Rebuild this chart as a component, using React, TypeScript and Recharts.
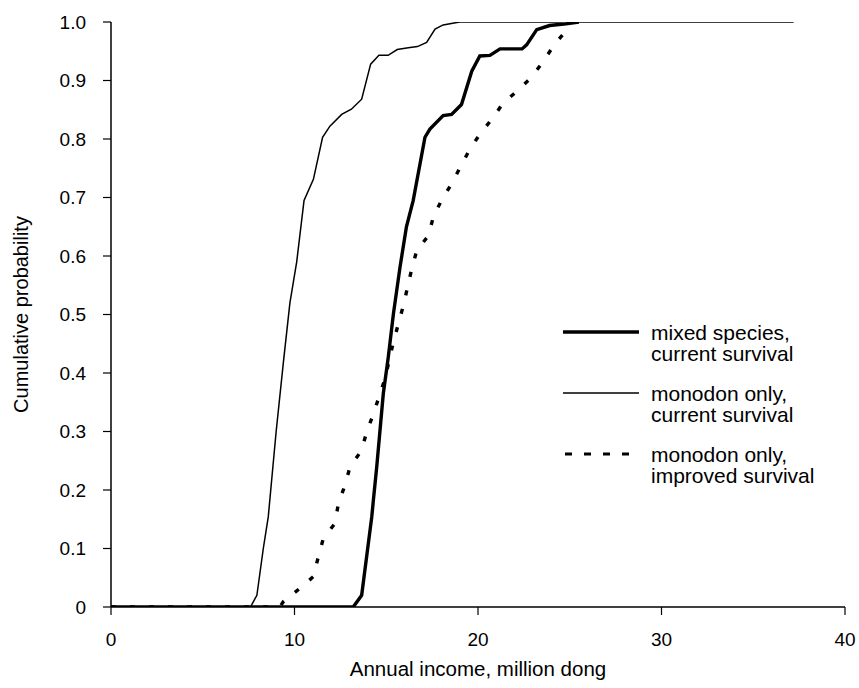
import React from 'react';
import { LineChart, Line, XAxis, YAxis, Legend, Label } from 'recharts';

const FONT = '"Liberation Sans", Arial, Helvetica, sans-serif';

// Axis ticks
const xTicks = [0, 10, 20, 30, 40];
const yTicks = [0, 0.1, 0.2, 0.3, 0.4, 0.5, 0.6, 0.7, 0.8, 0.9, 1.0];

// mixed species, current survival (thick solid)
const mixedX = [0, 13.2, 13.66, 14.21, 14.3, 14.48, 14.84, 15.11, 15.39, 15.75, 16.1, 16.47, 17.11, 17.38, 18.1, 18.56, 19.1, 19.66, 20.1, 20.65, 21.2, 22.4, 22.65, 23.2, 23.9, 24.8, 25.5];
const mixedP = [0, 0, 0.02, 0.154, 0.183, 0.239, 0.365, 0.427, 0.501, 0.581, 0.65, 0.695, 0.803, 0.817, 0.84, 0.842, 0.859, 0.916, 0.942, 0.943, 0.954, 0.954, 0.961, 0.987, 0.994, 0.997, 1.0];

// monodon only, current survival (thin solid)
const monoCurX = [0, 7.6, 7.95, 8.3, 8.57, 9.0, 9.4, 9.75, 10.12, 10.52, 11.03, 11.53, 11.93, 12.57, 13.1, 13.66, 14.15, 14.6, 15.1, 15.6, 16.2, 16.7, 17.2, 17.66, 18.1, 19.0, 37.2];
const monoCurP = [0, 0, 0.02, 0.1, 0.154, 0.3, 0.42, 0.52, 0.59, 0.695, 0.731, 0.803, 0.822, 0.842, 0.851, 0.868, 0.928, 0.943, 0.943, 0.953, 0.956, 0.958, 0.965, 0.988, 0.995, 1.0, 1.0];

// monodon only, improved survival (dotted)
const monoImpX = [0, 9.2, 9.39, 10.3, 11.03, 11.3, 11.57, 12.21, 12.39, 12.75, 13.02, 13.66, 13.93, 14.3, 14.93, 15.39, 15.93, 16.39, 16.66, 17.3, 17.56, 18.02, 18.57, 19.02, 19.56, 20.1, 20.83, 21.38, 22.1, 22.93, 23.56, 24.2, 24.83, 25.1];
const monoImpP = [0, 0, 0.009, 0.032, 0.052, 0.086, 0.117, 0.143, 0.177, 0.208, 0.239, 0.268, 0.299, 0.33, 0.39, 0.453, 0.515, 0.578, 0.609, 0.635, 0.666, 0.696, 0.724, 0.751, 0.783, 0.808, 0.837, 0.862, 0.881, 0.906, 0.933, 0.963, 0.986, 0.99];

const legendLabels = [
  ['mixed species,', 'current survival'],
  ['monodon only,', 'current survival'],
  ['monodon only,', 'improved survival'],
];

const toData = (xs: number[], ps: number[]) => xs.map((x, i) => ({ x, p: ps[i] }));

const mixedData = toData(mixedX, mixedP);
const monoCurData = toData(monoCurX, monoCurP);
const monoImpData = toData(monoImpX, monoImpP);

const lineStyles = [
  { strokeWidth: 3.4, dash: undefined as string | undefined },
  { strokeWidth: 1.5, dash: undefined as string | undefined },
  { strokeWidth: 3.4, dash: '5 14' },
];

const yFmt = (v: number) => (v === 0 ? '0' : v.toFixed(1));

const XTitle = (props: any) => {
  const vb = props.viewBox || {};
  return (
    <text
      x={vb.x + vb.width / 2}
      y={vb.y + 69}
      textAnchor="middle"
      fontSize={20.5}
      fontFamily={FONT}
      fill="#000"
    >
      Annual income, million dong
    </text>
  );
};

const YTitle = (props: any) => {
  const vb = props.viewBox || {};
  const x = vb.x + 28;
  const y = vb.y + vb.height / 2;
  return (
    <text
      x={x}
      y={y}
      transform={`rotate(-90, ${x}, ${y})`}
      textAnchor="middle"
      fontSize={20}
      fontFamily={FONT}
      fill="#000"
    >
      Cumulative probability
    </text>
  );
};

const renderLegend = () => (
  <svg width={280} height={180} style={{ display: 'block' }}>
    {legendLabels.map((lines, i) => {
      const st = lineStyles[i];
      const gy = 12 + i * 61;
      return (
        <g key={i}>
          <line
            x1={i === 2 ? 5 : 3}
            x2={i === 2 ? 70 : 79}
            y1={gy}
            y2={gy}
            stroke="#000"
            strokeWidth={i === 2 ? 3 : st.strokeWidth}
            strokeDasharray={i === 2 ? '7 12' : undefined}
          />
          <text x={91} y={gy + 7.5} fontSize={21} fontFamily={FONT} fill="#000">
            {lines[0]}
          </text>
          <text x={91} y={gy + 28.5} fontSize={21} fontFamily={FONT} fill="#000">
            {lines[1]}
          </text>
        </g>
      );
    })}
  </svg>
);

export default function App() {
  return (
    <div style={{ position: 'absolute', left: 0, top: 0, width: 859, height: 688, background: '#fff' }}>
      <LineChart
        width={859}
        height={688}
        margin={{ top: 22, right: 14, bottom: 20, left: 0 }}
      >
        <XAxis
          type="number"
          dataKey="x"
          domain={[0, 40]}
          ticks={xTicks}
          interval={0}
          allowDataOverflow
          height={61}
          tickSize={8}
          tickMargin={18}
          axisLine={{ stroke: '#000', strokeWidth: 1.5 }}
          tickLine={{ stroke: '#000', strokeWidth: 1.2 }}
          tick={{ fill: '#000', fontSize: 19, fontFamily: FONT }}
        >
          <Label content={XTitle} />
        </XAxis>
        <YAxis
          type="number"
          dataKey="p"
          domain={[0, 1]}
          ticks={yTicks}
          interval={0}
          allowDataOverflow
          width={111}
          tickSize={8}
          tickMargin={17}
          tickFormatter={yFmt}
          axisLine={{ stroke: '#000', strokeWidth: 1.5 }}
          tickLine={{ stroke: '#000', strokeWidth: 1.2 }}
          tick={{ fill: '#000', fontSize: 19, fontFamily: FONT }}
        >
          <Label content={YTitle} />
        </YAxis>
        <Line
          data={monoImpData}
          dataKey="p"
          name="monodon only, improved survival"
          type="linear"
          stroke="#000"
          strokeWidth={lineStyles[2].strokeWidth}
          strokeDasharray={lineStyles[2].dash}
          dot={false}
          activeDot={false}
          isAnimationActive={false}
        />
        <Line
          data={monoCurData}
          dataKey="p"
          name="monodon only, current survival"
          type="linear"
          stroke="#000"
          strokeWidth={lineStyles[1].strokeWidth}
          dot={false}
          activeDot={false}
          isAnimationActive={false}
        />
        <Line
          data={mixedData}
          dataKey="p"
          name="mixed species, current survival"
          type="linear"
          stroke="#000"
          strokeWidth={lineStyles[0].strokeWidth}
          dot={false}
          activeDot={false}
          isAnimationActive={false}
        />
        <Legend
          layout="horizontal"
          verticalAlign="middle"
          align="center"
          content={renderLegend}
          wrapperStyle={{ position: 'absolute', left: 560, top: 320, width: 280, height: 180 }}
        />
      </LineChart>
    </div>
  );
}
